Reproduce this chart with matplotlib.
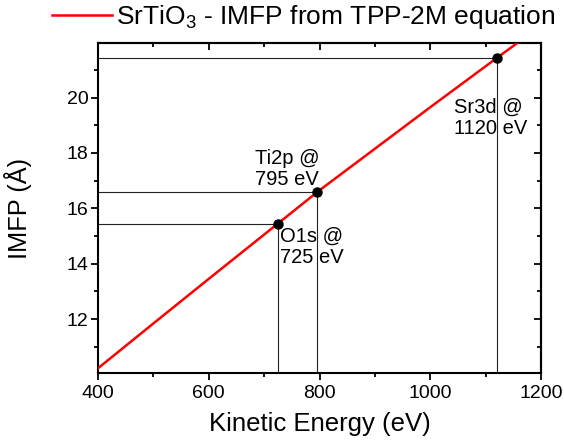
import numpy as np
import matplotlib
matplotlib.use("Agg")
import matplotlib.pyplot as plt
from matplotlib.ticker import MultipleLocator

plt.rcParams['font.family'] = ['Liberation Sans', 'DejaVu Sans']
plt.rcParams['mathtext.fontset'] = 'custom'
plt.rcParams['mathtext.rm'] = 'Liberation Sans'
plt.rcParams['mathtext.it'] = 'Liberation Sans:italic'

# IMFP curve
energy = [400, 500, 600, 700, 800, 900, 1000, 1100, 1200]
imfp = [10.22, 11.84, 13.45, 15.05, 16.65, 18.15, 19.65, 21.13, 22.6]

# core levels marked on the curve
peak_ke = [725, 795, 1120]
peak_imfp = [15.45, 16.58, 21.44]
peak_labels = ["O1s @\n725 eV", "Ti2p @\n795 eV", "Sr3d @\n1120 eV"]
label_xy = [(728, 15.35), (683, 18.15), (1043, 19.98)]

xmin, xmax = 400, 1200
ymin, ymax = 10.05, 21.97

fig = plt.figure(figsize=(5.64, 4.45), dpi=100)
ax = fig.add_axes([98/564, 1-373/445, 443/564, 330/445])

for x, y in zip(peak_ke, peak_imfp):
    ax.plot([xmin, x], [y, y], color='#222222', lw=0.8, zorder=2)
    ax.plot([x, x], [ymin, y], color='#222222', lw=0.8, zorder=2)

line, = ax.plot(energy, imfp, color='red', lw=1.8, zorder=3,
                label='SrTiO$_3$ - IMFP from TPP-2M equation')
ax.plot(peak_ke, peak_imfp, 'o', color='black', ms=6.5, zorder=4)

for txt, (tx, ty) in zip(peak_labels, label_xy):
    ax.text(tx, ty, txt, fontsize=14.5, ha='left', va='top', linespacing=1.15)

ax.set_xlim(xmin, xmax)
ax.set_ylim(ymin, ymax)
ax.xaxis.set_major_locator(MultipleLocator(200))
ax.xaxis.set_minor_locator(MultipleLocator(100))
ax.yaxis.set_major_locator(MultipleLocator(2))
ax.yaxis.set_minor_locator(MultipleLocator(1))

for s in ax.spines.values():
    s.set_linewidth(1.5)
ax.tick_params(which='both', direction='out', width=1.3, labelsize=14)
ax.tick_params(axis='x', pad=4)
ax.tick_params(axis='y', pad=2)
ax.tick_params(which='major', length=5)
ax.tick_params(which='minor', length=3)

# mirrored ticks on top/right point inward
ax2 = ax.secondary_xaxis('top')
ax3 = ax.secondary_yaxis('right')
for a in (ax2, ax3):
    a.tick_params(which='both', direction='in', width=1.3, labelleft=False,
                  labelright=False, labeltop=False, labelbottom=False)
    a.tick_params(which='major', length=5)
    a.tick_params(which='minor', length=3)
ax2.xaxis.set_major_locator(MultipleLocator(200))
ax2.xaxis.set_minor_locator(MultipleLocator(100))
ax3.yaxis.set_major_locator(MultipleLocator(2))
ax3.yaxis.set_minor_locator(MultipleLocator(1))
ax2.spines['top'].set_linewidth(1.5)
ax3.spines['right'].set_linewidth(1.5)

ax.set_xlabel('Kinetic Energy (eV)', fontsize=18.5, labelpad=7)
ax.set_ylabel('IMFP (Å)', fontsize=18.3, labelpad=25)

fig.legend(handles=[line], loc='center left', bbox_to_anchor=(52/564, 1-17/445),
           frameon=False, fontsize=19, handlelength=2.27, handletextpad=0.15,
           borderpad=0, borderaxespad=0)

fig.savefig('out.png', dpi=100)
